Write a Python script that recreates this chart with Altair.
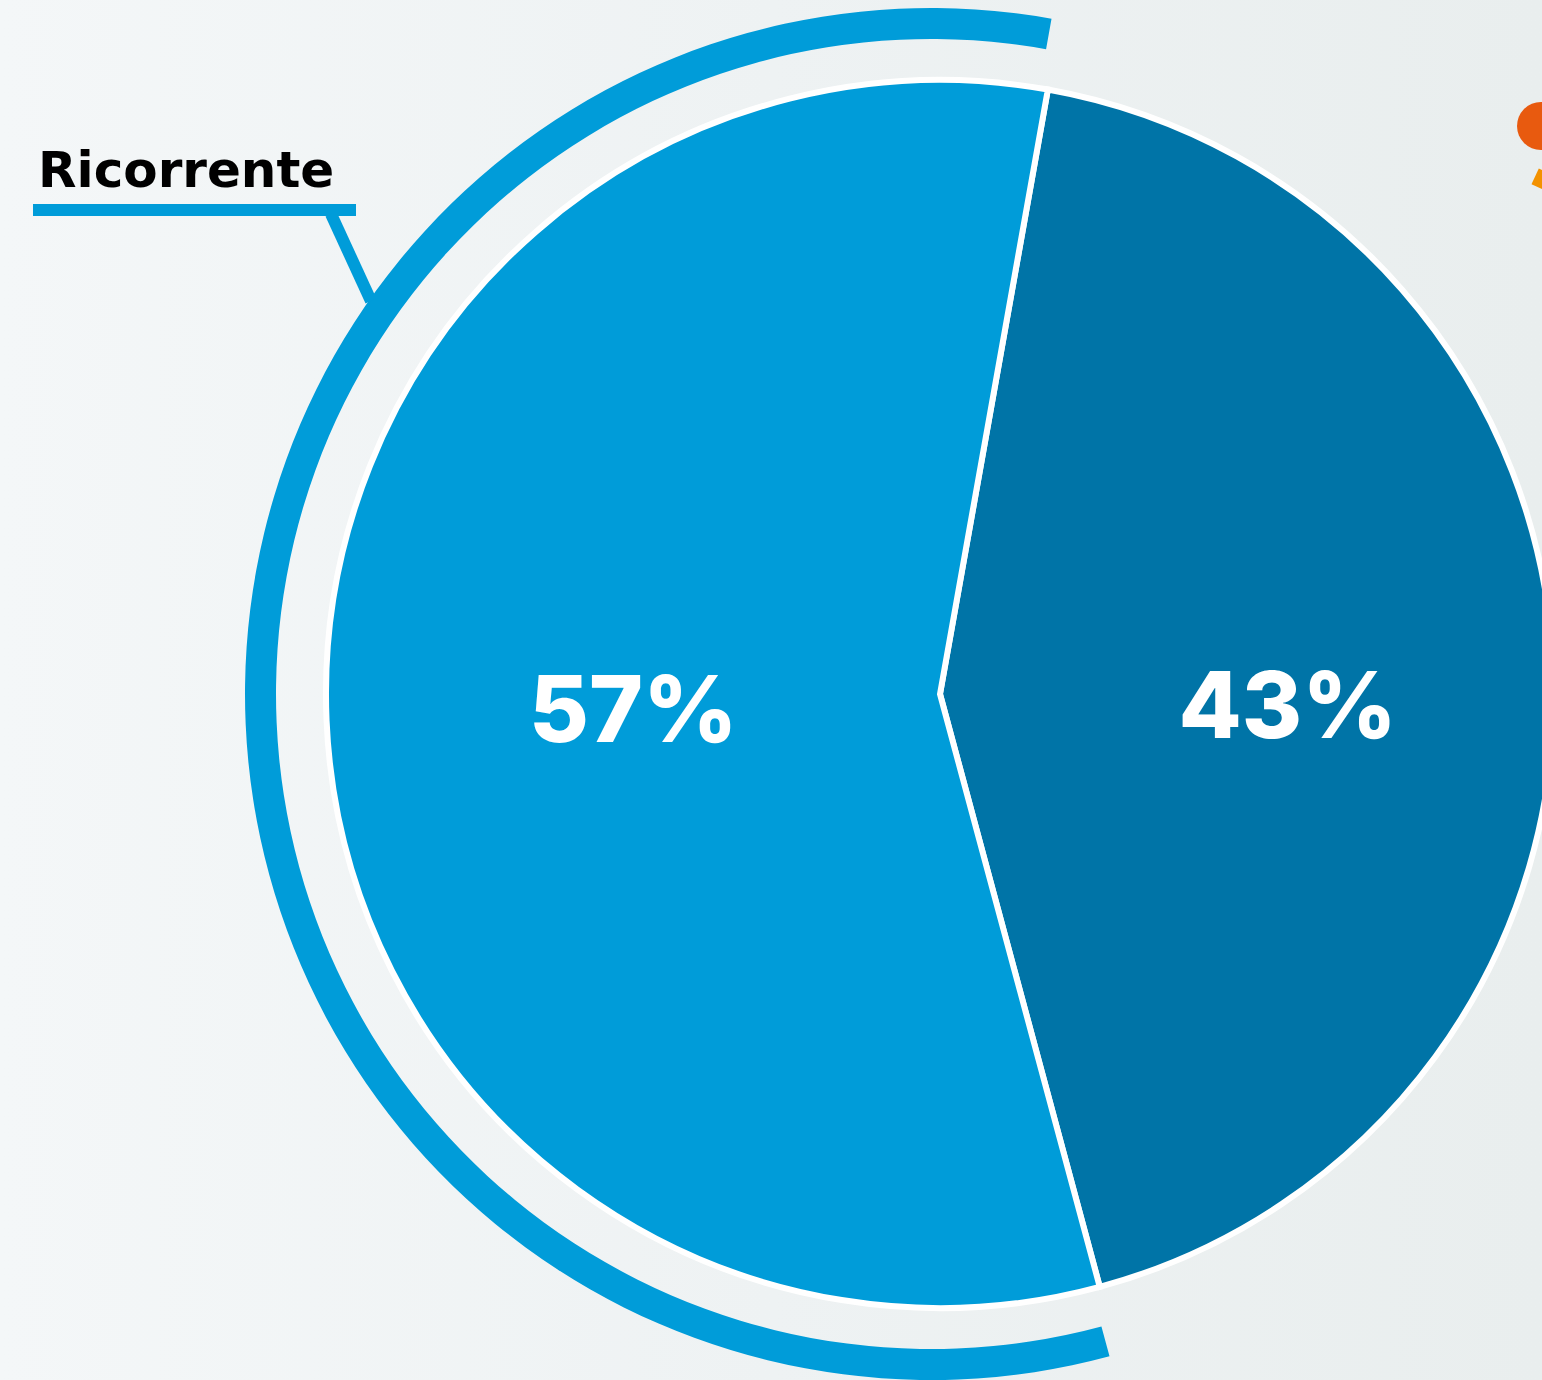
import altair as alt
import pandas as pd

# Data
categories = ["Non ricorrente", "Ricorrente"]
values = [43, 57]
labels = ["43%", "57%"]
colors = ["#0074A7", "#009CD9"]
callout_label = "Ricorrente"

df = pd.DataFrame({"cat": categories, "value": values, "label": labels, "order": [0, 1]})

W, H = 1542, 1380
CX, CY = 940, 694
R = 614
OFFSET = 0.1766  # start angle (radians) of the first slice
TAU = 6.283185307

theta_enc = alt.Theta("value:Q", stack=True,
                      scale=alt.Scale(range=[OFFSET, OFFSET + TAU]))
order_enc = alt.Order("order:Q")

base = alt.Chart(df)

bg = alt.Chart(pd.DataFrame({"a": [0]})).mark_rect().encode(
    x=alt.value(0), x2=alt.value(W), y=alt.value(0), y2=alt.value(H),
    color=alt.value({"gradient": "linear", "x1": 0, "y1": 0, "x2": 1, "y2": 0,
                     "stops": [{"offset": 0, "color": "#F4F7F8"},
                               {"offset": 0.5, "color": "#EEF2F3"},
                               {"offset": 1, "color": "#E9EEEE"}]}),
)

pie = base.mark_arc(radius=R, stroke="white", strokeWidth=6).encode(
    theta=theta_enc,
    order=order_enc,
    color=alt.Color("cat:N", scale=alt.Scale(domain=categories, range=colors), legend=None),
    x=alt.value(CX), y=alt.value(CY),
)

outer = base.mark_arc(radius=655, radius2=686).encode(
    theta=theta_enc,
    order=order_enc,
    color=alt.value("#009CD9"),
    opacity=alt.condition(alt.datum.cat == callout_label, alt.value(1), alt.value(0)),
    x=alt.value(931), y=alt.value(CY),
)

txt_dark = base.mark_text(radius=348, fontSize=92, fontWeight=800, font="Inter",
                          color="white", dy=31).encode(
    theta=theta_enc, order=order_enc, text="label:N",
    opacity=alt.condition(alt.datum.cat == categories[0], alt.value(1), alt.value(0)),
    x=alt.value(CX), y=alt.value(CY),
)
txt_light = base.mark_text(radius=307, fontSize=92, fontWeight=800, font="Inter",
                           color="white", dy=7).encode(
    theta=theta_enc, order=order_enc, text="label:N",
    opacity=alt.condition(alt.datum.cat == categories[1], alt.value(1), alt.value(0)),
    x=alt.value(CX), y=alt.value(CY),
)

one = alt.Chart(pd.DataFrame({"t": [callout_label]}))

callout_text = one.mark_text(fontSize=50, fontWeight="bold", font="DejaVu Sans", color="#000000",
                             align="left", baseline="alphabetic").encode(
    x=alt.value(38), y=alt.value(187), text="t:N")
underline = one.mark_rule(strokeWidth=12, color="#009CD9", strokeCap="butt").encode(
    x=alt.value(33), x2=alt.value(356), y=alt.value(210))
leader = one.mark_rule(strokeWidth=12, color="#009CD9", strokeCap="butt").encode(
    x=alt.value(331), x2=alt.value(371), y=alt.value(214), y2=alt.value(301))

dot = one.mark_circle(size=2300, color="#E85A0F", opacity=1).encode(
    x=alt.value(1541), y=alt.value(126))
tick = one.mark_point(shape="square", filled=True, size=300, color="#F39200",
                      angle=25, opacity=1).encode(
    x=alt.value(1543), y=alt.value(180))

chart = alt.layer(bg, outer, pie, txt_dark, txt_light, callout_text, underline, leader, dot, tick).properties(
    width=W, height=H, padding=0, autosize=alt.AutoSizeParams(type="none"),
).configure_view(stroke=None).configure(background="#EEF2F3")

chart.save("out.html", embed_options={"renderer": "svg", "actions": False})
